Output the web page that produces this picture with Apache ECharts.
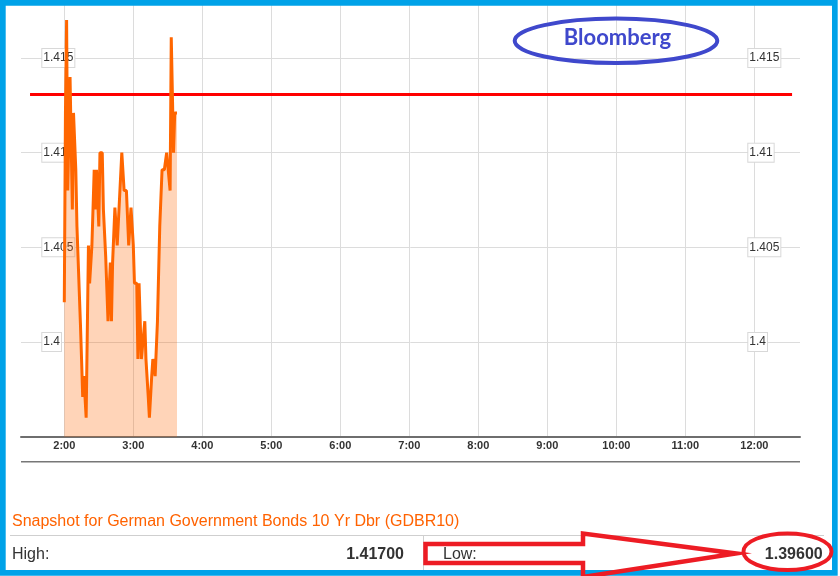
<!DOCTYPE html>
<html><head><meta charset="utf-8">
<script src="https://cdn.jsdelivr.net/npm/echarts@6/dist/echarts.min.js"></script>
<style>html,body{margin:0;padding:0;background:#fff}#c{width:840px;height:576px}</style>
</head><body><div id="c"></div>
<script>
// ---- data ----
const times = ['2:00','2:01','2:02','2:03','2:05','2:07','2:08','2:10','2:11','2:14','2:15','2:16','2:17','2:19',
  '2:21','2:22','2:24','2:26','2:27','2:28','2:30','2:31','2:33','2:34','2:36','2:38','2:40','2:41','2:42','2:44',
  '2:46','2:50','2:52','2:54','2:56','2:58','3:00','3:01','3:03','3:04','3:05','3:07','3:10','3:11','3:13','3:14',
  '3:16','3:17','3:19','3:21','3:23','3:25','3:27','3:29','3:30','3:32','3:33','3:35','3:36','3:38'];
const yields = [1.4021,1.4121,1.4170,1.4080,1.4140,1.4070,1.4121,1.4091,1.4061,1.4010,1.3991,1.3971,1.3982,1.3960,
  1.4051,1.4031,1.4051,1.4091,1.4070,1.4091,1.4061,1.4100,1.4100,1.4070,1.4045,1.4011,1.4042,1.4011,1.4042,1.4071,
  1.4051,1.4100,1.4080,1.4080,1.4051,1.4071,1.4051,1.4031,1.4031,1.3991,1.4031,1.3991,1.4011,1.3991,1.3971,1.3960,
  1.3982,1.3991,1.3982,1.4011,1.4061,1.4091,1.4091,1.4100,1.4100,1.4080,1.4161,1.4100,1.4121,1.4121];
const xTickLabels = ['2:00','3:00','4:00','5:00','6:00','7:00','8:00','9:00','10:00','11:00','12:00'];
const yTickValues = [1.4, 1.405, 1.41, 1.415];
const xRange = ['1:22.35','12:39.7'];
const yRange = [1.395, 1.418];
const referenceLevel = 1.4131;
const referenceSpan = ['1:30.2','12:32.8'];
const titleText = 'Snapshot for German Government Bonds 10 Yr Dbr (GDBR10)';
const highLabel = 'High:';
const lowLabel = 'Low:';
const brandText = 'Bloomberg';

// ---- helpers ----
function toMin(s){ const p = s.split(':'); return (+p[0])*60 + parseFloat(p[1]); }
function fmt(v){ const h = Math.floor(v/60), m = Math.round(v - h*60); return h + ':' + (m<10?'0':'') + m; }
const seriesData = times.map((t,i)=>[toMin(t), yields[i]]);
const xTicks = xTickLabels.map(toMin);
const highVal = Math.max(...yields).toFixed(3) + '00';
const lowVal = Math.min(...yields).toFixed(3) + '00';

const chart = echarts.init(document.getElementById('c'));
const yLabel = {
  inside: true, align: 'left', customValues: yTickValues,
  color: '#333', fontFamily: 'Liberation Sans, Arial', fontSize: 12, lineHeight: 14,
  backgroundColor: '#fff', borderColor: '#d8d8d8', borderWidth: 1, padding: [2,1,2,1]
};
function yAxisDef(pos, labelMargin, showLabels, showSplit, z){
  return { type: 'value', min: yRange[0], max: yRange[1], position: pos, z: z,
    axisLine: { show: false }, axisTick: { show: false, customValues: yTickValues },
    axisLabel: Object.assign({ margin: labelMargin, show: showLabels }, yLabel),
    splitLine: { show: showSplit, lineStyle: { color: '#dcdcdc', width: 1 } } };
}
chart.setOption({
  animation: false,
  grid: { left: 21, right: 40, top: 1.2, bottom: 139.3 },
  xAxis: {
    type: 'value', min: toMin(xRange[0]), max: toMin(xRange[1]), z: 0,
    axisLine: { show: true, lineStyle: { color: '#6e6e6e', width: 2 } },
    axisTick: { show: false, customValues: xTicks },
    axisLabel: { customValues: xTicks, formatter: fmt, margin: 4, color: '#333', fontWeight: 'bold',
      fontSize: 11, fontFamily: 'Liberation Sans, Arial' },
    splitLine: { show: true, lineStyle: { color: '#dcdcdc', width: 1 } }
  },
  yAxis: [
    yAxisDef('left', 21.3, false, true, 0),
    yAxisDef('left', 21.3, true, false, 1),
    yAxisDef('right', 51.7, true, false, 1)
  ],
  series: [{
    type: 'line', data: seriesData, symbol: 'none', yAxisIndex: 0, z: 5,
    lineStyle: { color: '#ff6600', width: 3 },
    areaStyle: { color: 'rgba(255,102,0,0.4)', origin: 'start' },
    markLine: {
      silent: true, symbol: 'none', label: { show: false },
      lineStyle: { color: '#ff0000', width: 3, type: 'solid' },
      data: [[ { coord: [toMin(referenceSpan[0]), referenceLevel] }, { coord: [toMin(referenceSpan[1]), referenceLevel] } ]]
    }
  }],
  graphic: [
    { type: 'line', shape: { x1: 21, y1: 461.7, x2: 800, y2: 461.7 }, style: { stroke: '#777', lineWidth: 1.5 } },
    { type: 'text', x: 12, y: 521.5, style: { text: titleText, fill: '#ff6200', font: '16px "Liberation Sans", Arial', textVerticalAlign: 'middle' } },
    { type: 'line', shape: { x1: 10, y1: 535.5, x2: 824, y2: 535.5 }, style: { stroke: '#cfcfcf', lineWidth: 1 } },
    { type: 'line', shape: { x1: 423.5, y1: 536, x2: 423.5, y2: 570 }, style: { stroke: '#cfcfcf', lineWidth: 1 } },
    { type: 'text', x: 12, y: 554.5, style: { text: highLabel, fill: '#333', font: '16px "Liberation Sans", Arial', textVerticalAlign: 'middle' } },
    { type: 'text', x: 404, y: 554.5, style: { text: highVal, fill: '#333', font: 'bold 16px "Liberation Sans", Arial', textAlign: 'right', textVerticalAlign: 'middle' } },
    { type: 'text', x: 443, y: 554.5, style: { text: lowLabel, fill: '#333', font: '16px "Liberation Sans", Arial', textVerticalAlign: 'middle' } },
    { type: 'text', x: 822.7, y: 554.5, style: { text: lowVal, fill: '#333', font: 'bold 16px "Liberation Sans", Arial', textAlign: 'right', textVerticalAlign: 'middle' } },
    { type: 'rect', z: 100, shape: { x: 2.85, y: 2.85, width: 832, height: 570 }, style: { fill: 'none', stroke: '#00a2e8', lineWidth: 5.7 } },
    { type: 'polygon', z: 101, shape: { points: [[425.5,544],[583,544],[583,533.5],[736,553.5],[583,577],[583,563],[425.5,563]] },
      style: { fill: 'none', stroke: '#ed1c24', lineWidth: 4.5, lineJoin: 'miter' } },
    { type: 'ellipse', z: 101, shape: { cx: 787.5, cy: 551.7, rx: 44, ry: 18.3 }, style: { fill: 'none', stroke: '#ed1c24', lineWidth: 4 } },
    { type: 'ellipse', z: 101, shape: { cx: 616, cy: 40.8, rx: 101.3, ry: 22.2 }, style: { fill: 'none', stroke: '#3f48cc', lineWidth: 4 } },
    { type: 'text', z: 101, x: 617.5, y: 37.5, style: { text: brandText, fill: '#3f48cc', font: 'bold 22px Lato', textAlign: 'center', textVerticalAlign: 'middle' } }
  ]
});
</script></body></html>
